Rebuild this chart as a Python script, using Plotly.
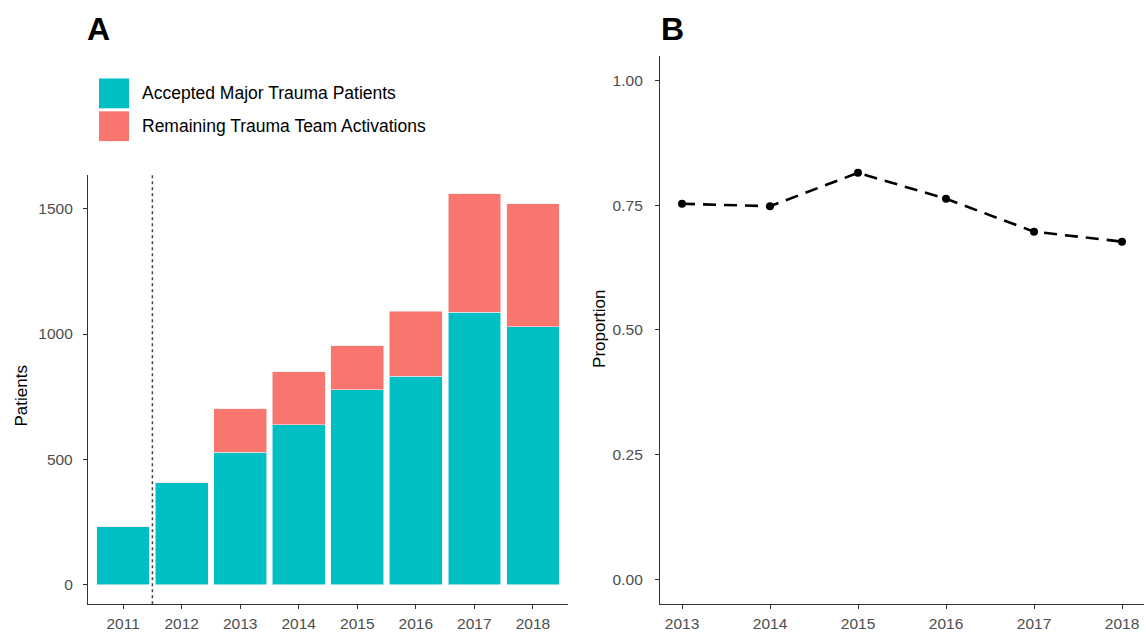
import plotly.graph_objects as go

years_a = ["2011", "2012", "2013", "2014", "2015", "2016", "2017", "2018"]
accepted = [232, 406, 528, 638, 777, 832, 1086, 1029]
remaining = [0, 0, 173, 212, 176, 259, 474, 490]

years_b = [2013, 2014, 2015, 2016, 2017, 2018]
proportion = [0.753, 0.748, 0.815, 0.763, 0.697, 0.677]

TEAL = "#00BFC4"
RED = "#F8766D"
FONT = "Liberation Sans, Arial, sans-serif"
AX = "#333333"
TICK = "#4d4d4d"

W, H = 1146, 632
def px(x): return x / W
def py(y): return 1 - y / H

fig = go.Figure()
fig.add_trace(go.Bar(x=years_a, y=accepted, marker=dict(color=TEAL, line=dict(color="#e8f8f8", width=0.6)),
                     name="Accepted Major Trauma Patients", xaxis="x", yaxis="y", showlegend=False))
fig.add_trace(go.Bar(x=years_a, y=remaining, marker=dict(color=RED, line=dict(color="#fde8e6", width=0.6)),
                     name="Remaining Trauma Team Activations", xaxis="x", yaxis="y", showlegend=False))
fig.add_trace(go.Scatter(x=years_b, y=proportion, mode="lines+markers",
                         line=dict(color="black", width=2.6, dash="13px,8px"),
                         marker=dict(color="black", size=8), xaxis="x2", yaxis="y2", showlegend=False))

axis_common = dict(showline=True, linecolor=AX, linewidth=1.3, ticks="outside", ticklen=4,
                   tickcolor=AX, tickwidth=1.3, showgrid=False, zeroline=False,
                   tickfont=dict(family=FONT, size=15.5, color=TICK))

fig.update_layout(
    width=W, height=H, margin=dict(l=0, r=0, t=0, b=0),
    paper_bgcolor="white", plot_bgcolor="white", barmode="stack", bargap=0.1,
    xaxis=dict(domain=[px(88), px(568)], anchor="y", type="category",
               range=[-0.6, 7.6], ticklabelstandoff=1, **axis_common),
    yaxis=dict(domain=[py(608), py(176)], anchor="x", range=[-77.8, 1635],
               tickvals=[0, 500, 1000, 1500], ticklabelstandoff=7, **axis_common),
    xaxis2=dict(domain=[px(660), px(1144)], anchor="y2", range=[2012.75, 2018.25],
                tickvals=years_b, ticklabelstandoff=1, **axis_common),
    yaxis2=dict(domain=[py(608), py(56)], anchor="x2", range=[-0.05, 1.05],
                tickvals=[0, 0.25, 0.5, 0.75, 1.0], tickformat=".2f", ticklabelstandoff=9,
                **axis_common),
)

# axis titles
fig.add_annotation(text="Patients", xref="paper", yref="paper", x=px(21), y=py(399),
                   textangle=-90, showarrow=False, xanchor="center", yanchor="middle",
                   font=dict(family=FONT, size=17, color="black"))
fig.add_annotation(text="Proportion", xref="paper", yref="paper", x=px(600), y=py(331),
                   textangle=-90, showarrow=False, xanchor="center", yanchor="middle",
                   font=dict(family=FONT, size=17, color="black"))

# dotted separator between 2011 and 2012
fig.add_shape(type="line", xref="x", yref="y domain", x0=0.5, x1=0.5, y0=0, y1=1,
              line=dict(color="#444444", width=1.5, dash="dot"))

# panel labels
fig.add_annotation(text="<b>A</b>", xref="paper", yref="paper", x=px(98), y=py(29),
                   xanchor="center", yanchor="middle",
                   showarrow=False, font=dict(family=FONT, size=32, color="black"))
fig.add_annotation(text="<b>B</b>", xref="paper", yref="paper", x=px(672), y=py(29),
                   xanchor="center", yanchor="middle",
                   showarrow=False, font=dict(family=FONT, size=32, color="black"))

# legend (manual keys)
for (y0, y1, col, label) in [(79, 109, TEAL, "Accepted Major Trauma Patients"),
                             (112, 142, RED, "Remaining Trauma Team Activations")]:
    fig.add_shape(type="rect", xref="paper", yref="paper", x0=px(99), x1=px(129),
                  y0=py(y1), y1=py(y0), fillcolor=col, line=dict(width=0))
    fig.add_annotation(text=label, xref="paper", yref="paper", x=px(140), y=py((y0 + y1) / 2),
                       xanchor="left", yanchor="middle", showarrow=False,
                       font=dict(family=FONT, size=17.5, color="black"))

fig.write_html("out.html", config={"displayModeBar": False},
               post_script="document.body.style.margin='0';")
